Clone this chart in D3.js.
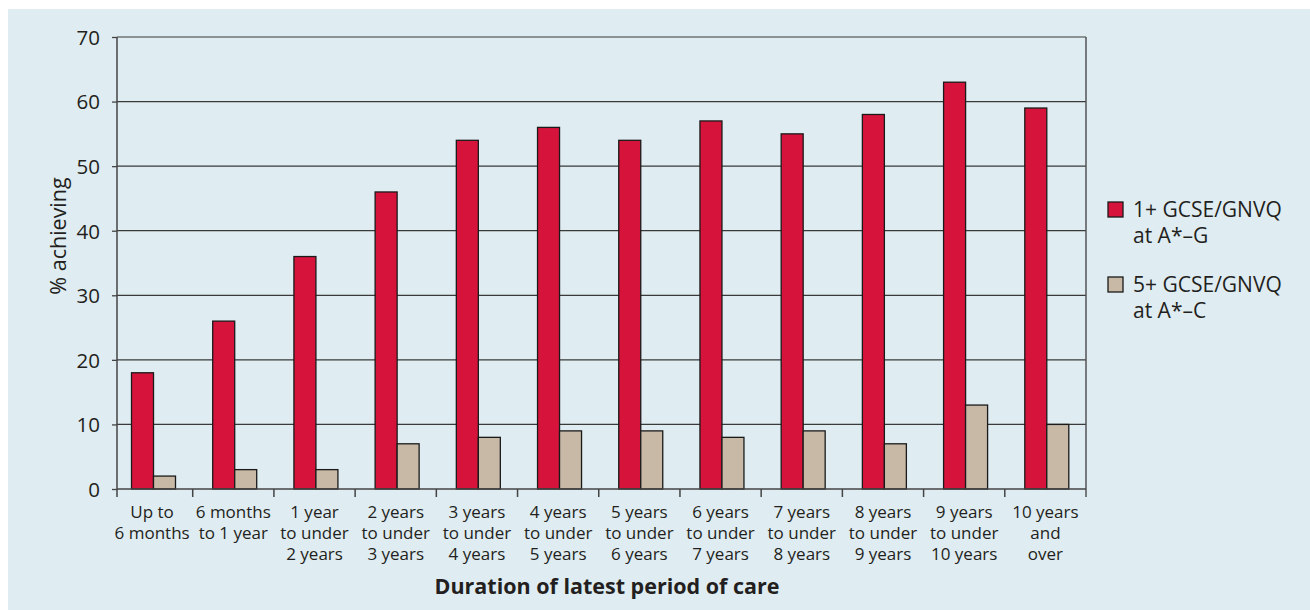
<!DOCTYPE html>
<head>
<meta charset="utf-8">
<script src="https://d3js.org/d3.v7.min.js"></script>
<style>
  body { margin: 0; background: #fff; }
  text { font-family: "Open Sans", "Noto Sans", sans-serif; fill: #231f20; }
</style>
</head>
<body>
<div id="my_dataviz"></div>
<script>
    // categories (each label split into lines)
    var categories = [
        ["Up to", "6 months"],
        ["6 months", "to 1 year"],
        ["1 year", "to under", "2 years"],
        ["2 years", "to under", "3 years"],
        ["3 years", "to under", "4 years"],
        ["4 years", "to under", "5 years"],
        ["5 years", "to under", "6 years"],
        ["6 years", "to under", "7 years"],
        ["7 years", "to under", "8 years"],
        ["8 years", "to under", "9 years"],
        ["9 years", "to under", "10 years"],
        ["10 years", "and", "over"]
    ];
    var seriesNames = [["1+ GCSE/GNVQ", "at A*–G"], ["5+ GCSE/GNVQ", "at A*–C"]];
    var oneplus = [18, 26, 36, 46, 54, 56, 54, 57, 55, 58, 63, 59];
    var fiveplus = [2, 3, 3, 7, 8, 9, 9, 8, 9, 7, 13, 10];
    var yTicks = [0, 10, 20, 30, 40, 50, 60, 70];
    var colors = ["#d6143b", "#c7b9a6"];

    var W = 1310, H = 610;
    var plotLeft = 117, plotRight = 1086, plotTop = 37, plotBottom = 489;

    var svg = d3.select("#my_dataviz")
      .append("svg")
        .attr("width", W)
        .attr("height", H);

    // background panel
    svg.append("rect")
        .attr("x", 8).attr("y", 9)
        .attr("width", W - 8).attr("height", H - 9)
        .attr("fill", "#dfecf1");

    var x = d3.scaleBand()
        .domain(d3.range(categories.length))
        .range([111.5, plotRight])
        .padding(0);

    var y = d3.scaleLinear()
        .domain([0, 70])
        .range([plotBottom, plotTop]);

    // gridlines
    svg.append("g")
        .selectAll("line")
        .data(yTicks.filter(function(d){ return d > 0; }))
        .enter()
        .append("line")
          .attr("x1", plotLeft).attr("x2", plotRight)
          .attr("y1", function(d){ return y(d); })
          .attr("y2", function(d){ return y(d); })
          .attr("stroke", "#3a3a3a")
          .attr("stroke-width", 1.2);

    // right border
    svg.append("line")
        .attr("x1", plotRight).attr("x2", plotRight)
        .attr("y1", plotTop).attr("y2", plotBottom + 8)
        .attr("stroke", "#555").attr("stroke-width", 1.5);

    // bars
    var barW = 22, offset = 20;
    var series = [oneplus, fiveplus];
    series.forEach(function(vals, s) {
        svg.append("g")
          .selectAll("rect")
          .data(vals)
          .enter()
          .append("rect")
            .attr("x", function(d, i){ return x(i) + offset + s * barW; })
            .attr("y", function(d){ return y(d); })
            .attr("width", barW)
            .attr("height", function(d){ return y(0) - y(d); })
            .attr("fill", colors[s])
            .attr("stroke", "#1a1a1a")
            .attr("stroke-width", 1.3);
    });

    // y axis
    var yAxis = svg.append("g")
        .attr("transform", "translate(" + plotLeft + ",0)")
        .call(d3.axisLeft(y).tickValues(yTicks).tickSize(5).tickPadding(12));
    yAxis.select(".domain").attr("stroke", "#444").attr("stroke-width", 1.5)
        .attr("d", "M0," + plotTop + "V" + (plotBottom + 8));
    yAxis.selectAll(".tick line").attr("stroke", "#444").attr("stroke-width", 1.3);
    yAxis.selectAll(".tick text")
        .style("font-size", "20.5px")
        .style("font-family", "'Open Sans', sans-serif")
        .attr("fill", "#231f20")
        .attr("dy", "0.36em");

    // x axis line and ticks
    svg.append("line")
        .attr("x1", plotLeft).attr("x2", plotRight)
        .attr("y1", plotBottom).attr("y2", plotBottom)
        .attr("stroke", "#444").attr("stroke-width", 1.5);
    svg.append("g")
        .selectAll("line")
        .data(d3.range(1, categories.length))
        .enter()
        .append("line")
          .attr("x1", function(d){ return x(d); })
          .attr("x2", function(d){ return x(d); })
          .attr("y1", plotBottom).attr("y2", plotBottom + 8)
          .attr("stroke", "#444").attr("stroke-width", 1.5);

    // category labels
    var labels = svg.append("g")
        .selectAll("text")
        .data(categories)
        .enter()
        .append("text")
          .attr("text-anchor", "middle")
          .style("font-size", "17px")
          .attr("transform", function(d, i){
              return "translate(" + (x(i) + x.bandwidth() / 2) + "," + 518 + ")";
          });
    labels.selectAll("tspan")
        .data(function(d){ return d; })
        .enter()
        .append("tspan")
          .attr("x", 0)
          .attr("y", function(d, j){ return j * 21; })
          .text(function(d){ return d; });

    // axis titles
    svg.append("text")
        .attr("text-anchor", "middle")
        .attr("transform", "translate(66,236) rotate(-90)")
        .style("font-size", "21.5px")
        .text("% achieving");

    svg.append("text")
        .attr("text-anchor", "middle")
        .attr("x", 607).attr("y", 594)
        .style("font-size", "21.5px")
        .style("font-weight", "bold")
        .text("Duration of latest period of care");

    // legend
    var legend = svg.append("g")
        .selectAll("g")
        .data(seriesNames)
        .enter()
        .append("g")
          .attr("transform", function(d, i){ return "translate(1108," + (202 + i * 75) + ")"; });
    legend.append("rect")
        .attr("width", 15).attr("height", 15)
        .attr("fill", function(d, i){ return colors[i]; })
        .attr("stroke", "#1a1a1a")
        .attr("stroke-width", 1.3);
    var lt = legend.append("text")
        .style("font-size", "21px");
    lt.selectAll("tspan")
        .data(function(d){ return d; })
        .enter()
        .append("tspan")
          .attr("x", 25)
          .attr("y", function(d, j){ return 15 + j * 26; })
          .text(function(d){ return d; });
</script>
</body>
